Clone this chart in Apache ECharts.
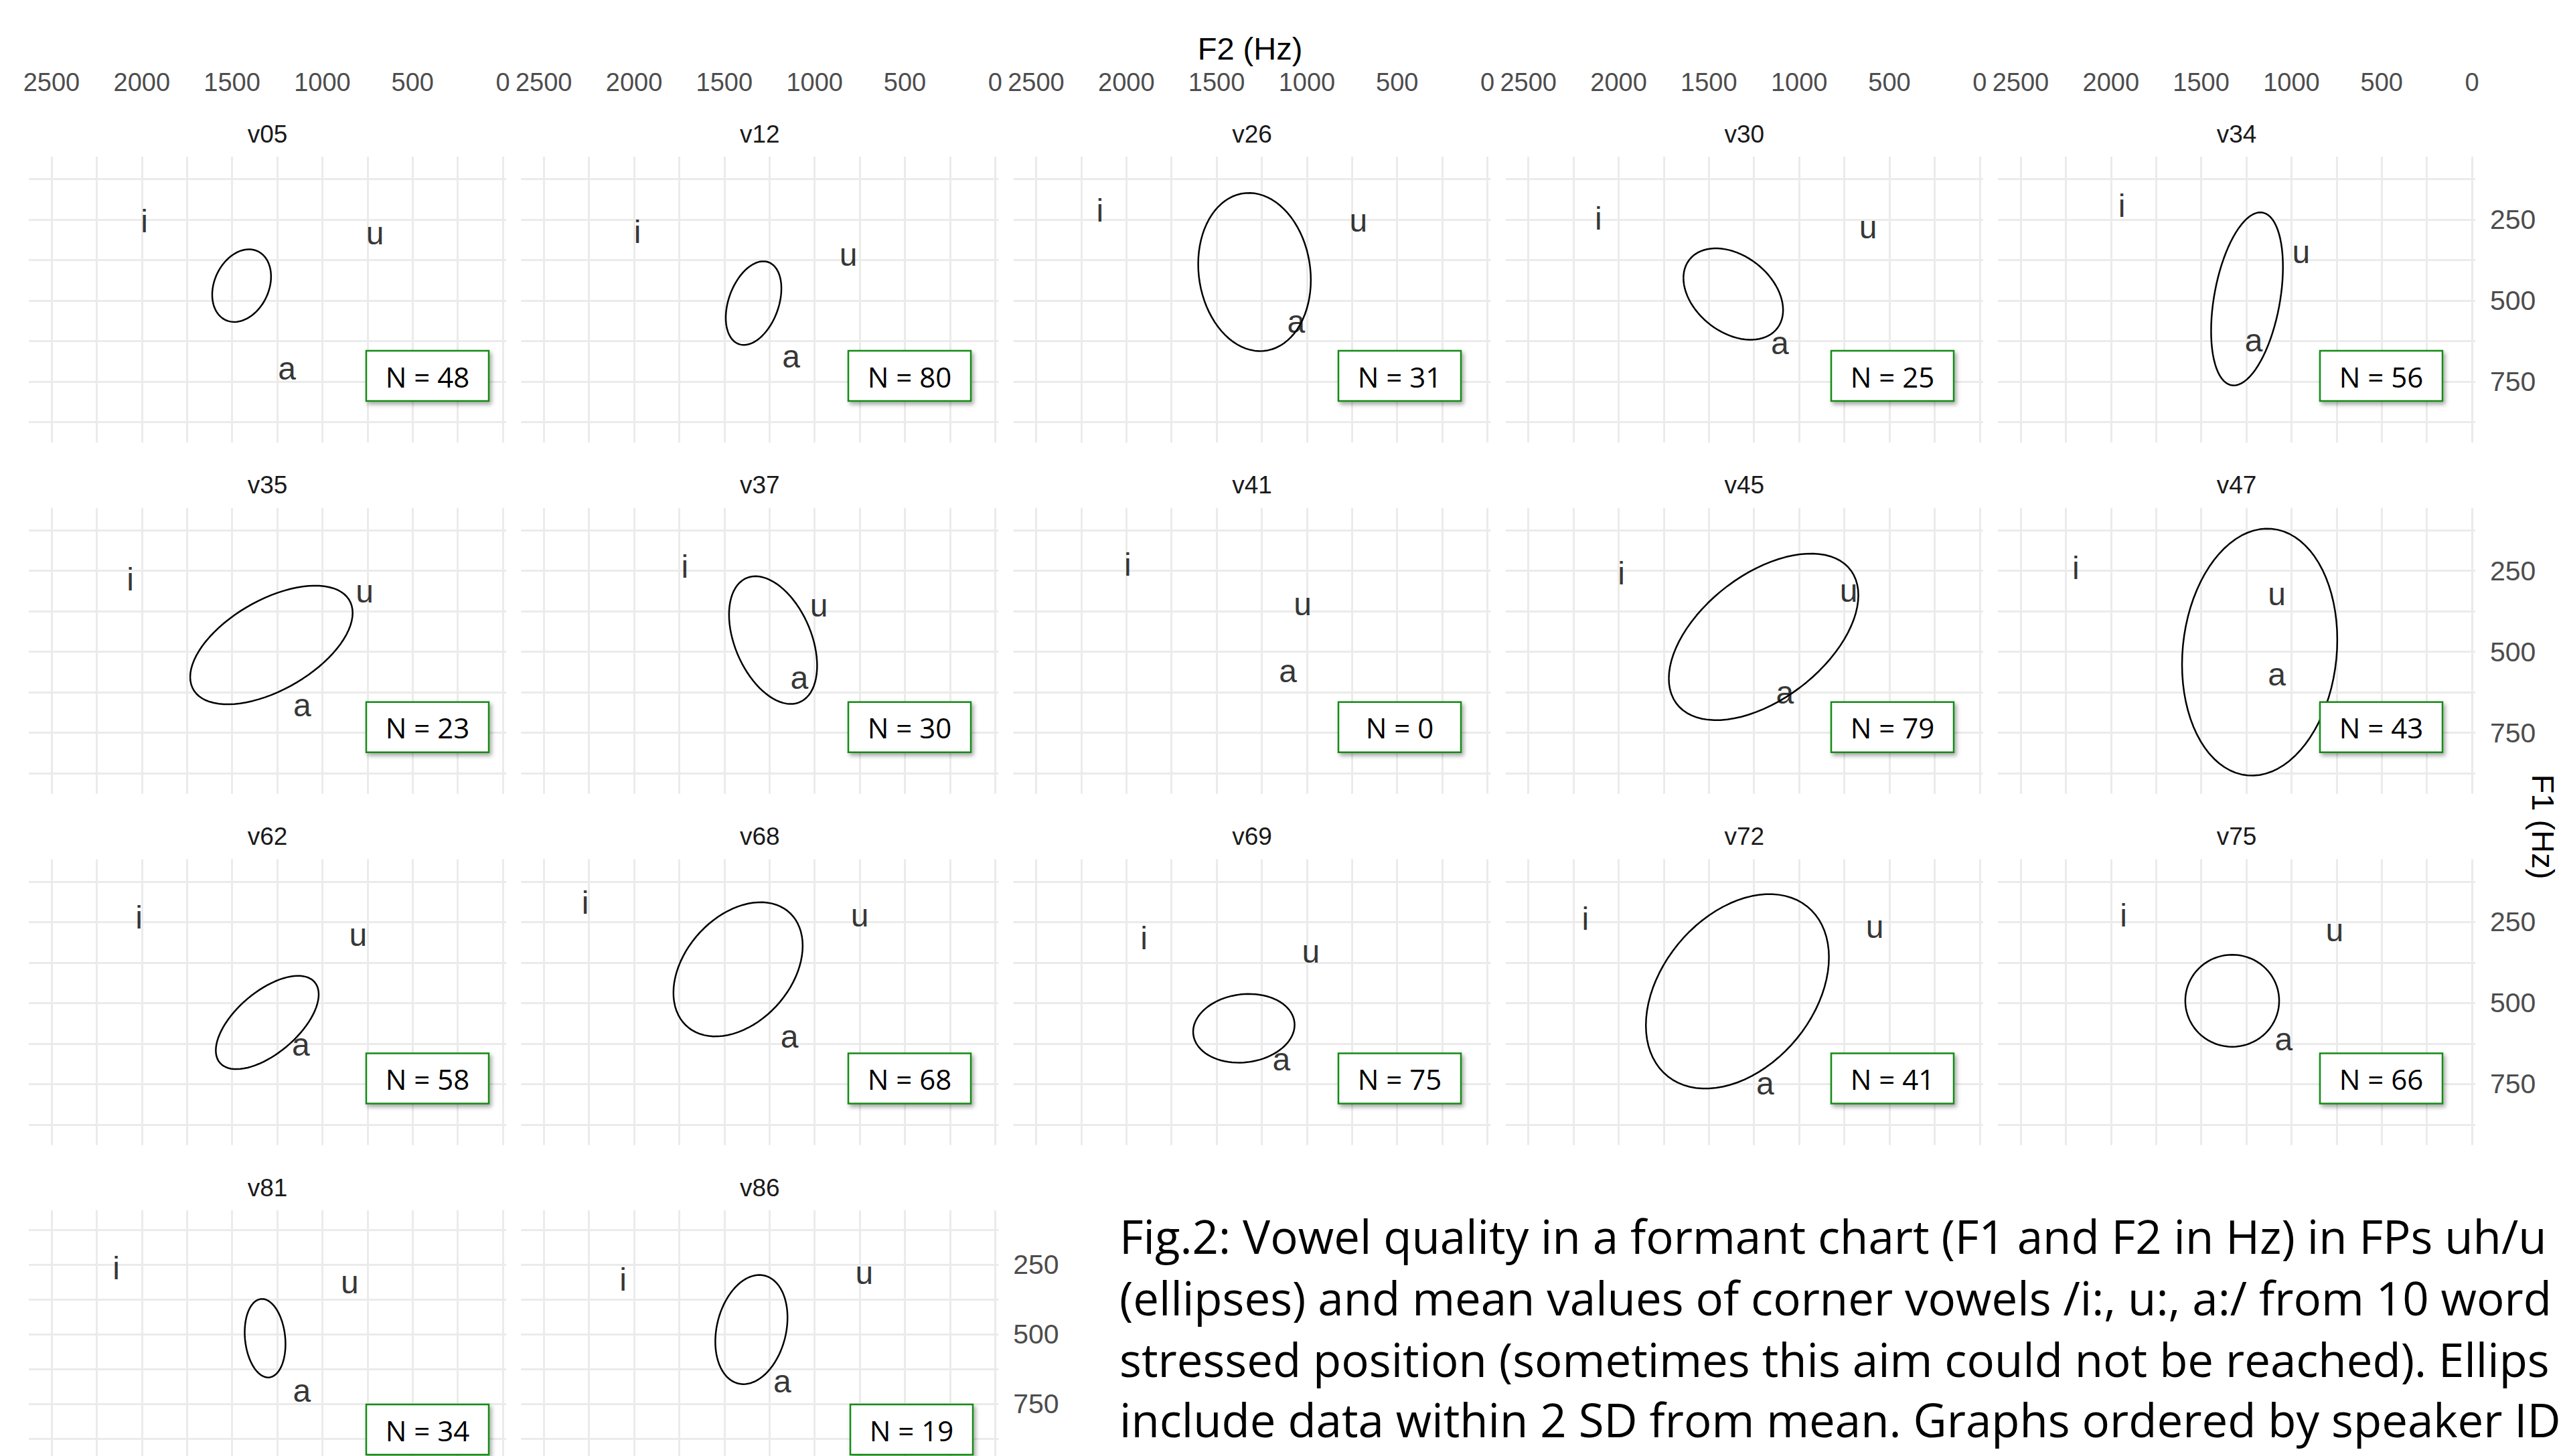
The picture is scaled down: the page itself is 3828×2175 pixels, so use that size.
<!DOCTYPE html>
<html><head><meta charset="utf-8">
<script src="https://cdn.jsdelivr.net/npm/echarts@6/dist/echarts.min.js"></script>
<style>html,body{margin:0;padding:0;background:#fff}#c{width:3828px;height:2175px}</style>
</head><body><div id="c"></div>
<script>
// ---------- data ----------
const speakers = ["v05","v12","v26","v30","v34","v35","v37","v41","v45","v47","v62","v68","v69","v72","v75","v81","v86"];
const nCounts  = [48,80,31,25,56,23,30,0,79,43,58,68,75,41,66,34,19];
// corner vowel means (F2, F1 in Hz)
const iF2 = [1986,1981,2146,2112,1940, 2064,1719,1992,1985,2195, 2016,2271,1902,2184,1930, 2142,2061];
const iF1 = [256,289,223,248,208, 277,237,232,257,242, 235,190,300,240,229, 263,305];
const uF2 = [708,813,715,618,946, 766,976,1023,726,1081, 802,750,978,581,761, 848,725];
const uF1 = [293,359,254,274,351, 314,358,353,312,323, 290,230,341,265,275, 315,280];
const aF2 = [1196,1130,1060,1107,1209, 1111,1085,1105,1079,1081, 1119,1139,1141,1188,1043, 1113,1179];
const aF1 = [710,672,566,632,623, 664,580,559,625,570, 628,603,673,749,611, 704,670];
// FP ellipses: centre, half extents (Hz) and F2/F1 correlation
const ellF2 = [1447,1338,1290,1365,1246, 1282,1230,null,1197,1176, 1305,1424,1349,1342,1328, 1317,1350];
const ellF1 = [454,508,412,480,495, 479,464,null,454,501, 560,396,578,464,493, 515,484];
const ellHalfF2 = [163,154,312,276,199, 450,244,null,525,430, 285,358,281,507,260, 113,200];
const ellHalfF1 = [112,129,244,141,267, 183,197,null,257,381, 144,207,106,300,142, 141,196];
const ellCorr = [0.25,0.35,-0.1,-0.35,0.37, 0.54,-0.4,null,0.5,0.1, 0.6,0.35,0.1,0.35,0, -0.15,0.22];
// axis ticks
const xGridValues = [0,250,500,750,1000,1250,1500,1750,2000,2250,2500];
const xTickLabels = [0,500,1000,1500,2000,2500];
const yGridValues = [125,250,375,500,625,750,875];
const yTickLabels = [250,500,750];
const xTitle = "F2 (Hz)";
const yTitle = "F1 (Hz)";
// caption as visible in the reference (it runs off the right edge there)
const captionLines = [
  "Fig.2: Vowel quality in a formant chart (F1 and F2 in Hz) in FPs uh/u",
  "(ellipses) and mean values of corner vowels /i:, u:, a:/ from 10 word",
  "stressed position (sometimes this aim could not be reached). Ellips",
  "include data within 2 SD from mean. Graphs ordered by speaker ID"
];

// ---------- layout ----------
const NCOL = 5;
const GL = 43, GSTEPX = 735.25, GW = 713;
const GT = 234, GSTEPY = 524.7, GH = 427;
const BOXLEFT = [547, 1267, 1999, 2735, 3465];
const FONT = "Liberation Sans";

function ellipsePoints(k){
  const pts = [];
  const r = ellCorr[k], s = Math.sqrt(1 - r*r);
  for (let j = 0; j <= 80; j++){
    const t = 2*Math.PI*j/80;
    pts.push([ellF2[k] + ellHalfF2[k]*Math.cos(t),
              ellF1[k] + ellHalfF1[k]*(r*Math.cos(t) + s*Math.sin(t))]);
  }
  return pts;
}

const grids = [], xAxes = [], yAxes = [], series = [], graphics = [];
speakers.forEach((sp, k) => {
  const row = Math.floor(k / NCOL), col = k % NCOL;
  const left = GL + GSTEPX*col, top = GT + GSTEPY*row;
  grids.push({left: left, top: top, width: GW, height: GH, containLabel: false});
  xAxes.push({
    gridIndex: k, type: 'value', min: -18.5, max: 2626, inverse: true, position: 'top',
    axisLine: {show: false},
    axisTick: {show: false, customValues: xGridValues},
    axisLabel: {show: row === 0, customValues: xTickLabels, margin: 92,
                formatter: v => String(v),
                fontSize: 38, color: '#4D4D4D', fontFamily: FONT},
    splitLine: {show: true, lineStyle: {color: '#EBEBEB', width: 3}}
  });
  const showY = (col === NCOL-1) || (k === speakers.length-1);
  yAxes.push({
    gridIndex: k, type: 'value', min: 56, max: 938, inverse: true, position: 'right',
    axisLine: {show: false},
    axisTick: {show: false, customValues: yGridValues},
    axisLabel: {show: showY, customValues: yTickLabels, margin: 22,
                formatter: v => String(v),
                fontSize: 41, color: '#4D4D4D', fontFamily: FONT},
    splitLine: {show: true, lineStyle: {color: '#EBEBEB', width: 3}}
  });
  if (ellF2[k] !== null){
    series.push({
      type: 'line', xAxisIndex: k, yAxisIndex: k, data: ellipsePoints(k),
      showSymbol: false, symbol: 'none', silent: true, clip: false,
      lineStyle: {color: '#000', width: 2.5}
    });
  }
  series.push({
    type: 'scatter', xAxisIndex: k, yAxisIndex: k, symbolSize: 1, silent: true,
    itemStyle: {color: 'rgba(0,0,0,0)'},
    data: [[iF2[k], iF1[k], 'i'], [uF2[k], uF1[k], 'u'], [aF2[k], aF1[k], 'a']],
    label: {show: true, position: 'inside', formatter: p => p.data[2],
            fontSize: 48, color: '#000', fontFamily: FONT}
  });
  // strip title
  graphics.push({type: 'text', x: left + GW/2, y: top - 34, z: 10,
    style: {text: sp, fontSize: 37, fill: '#1A1A1A', fontFamily: FONT,
            textAlign: 'center', textVerticalAlign: 'middle'}});
  // N box
  const bx = BOXLEFT[col] + (row === 3 && col === 1 ? 3 : 0), by = top + 290;
  graphics.push({type: 'rect', z: 20, shape: {x: bx, y: by, width: 183, height: 75},
    style: {fill: '#fff', stroke: '#138A13', lineWidth: 2.5,
            shadowBlur: 6, shadowOffsetX: 3, shadowOffsetY: 4, shadowColor: 'rgba(0,0,0,0.35)'}});
  graphics.push({type: 'text', z: 21, x: bx + 91.5, y: by + 38,
    style: {text: 'N = ' + nCounts[k], fontSize: 42, fill: '#000', fontFamily: 'Open Sans',
            textAlign: 'center', textVerticalAlign: 'middle'}});
});

graphics.push({type: 'text', x: 1867, y: 72, z: 10,
  style: {text: xTitle, fontSize: 47, fill: '#000', fontFamily: FONT,
          textAlign: 'center', textVerticalAlign: 'middle'}});
graphics.push({type: 'text', x: 3798, y: 1235, rotation: -Math.PI/2, z: 10,
  style: {text: yTitle, fontSize: 47, fill: '#000', fontFamily: FONT,
          textAlign: 'center', textVerticalAlign: 'middle'}});
const capCentre = [1846, 1938, 2030, 2120];
captionLines.forEach((ln, i) => {
  graphics.push({type: 'text', x: 1672, y: capCentre[i], z: 10,
    style: {text: ln, fontSize: 69, fill: '#000', fontFamily: 'Open Sans',
            textAlign: 'left', textVerticalAlign: 'middle'}});
});

const chart = echarts.init(document.getElementById('c'), null, {renderer: 'svg'});
chart.setOption({
  backgroundColor: '#fff', animation: false,
  grid: grids, xAxis: xAxes, yAxis: yAxes, series: series, graphic: graphics
});
</script></body></html>
